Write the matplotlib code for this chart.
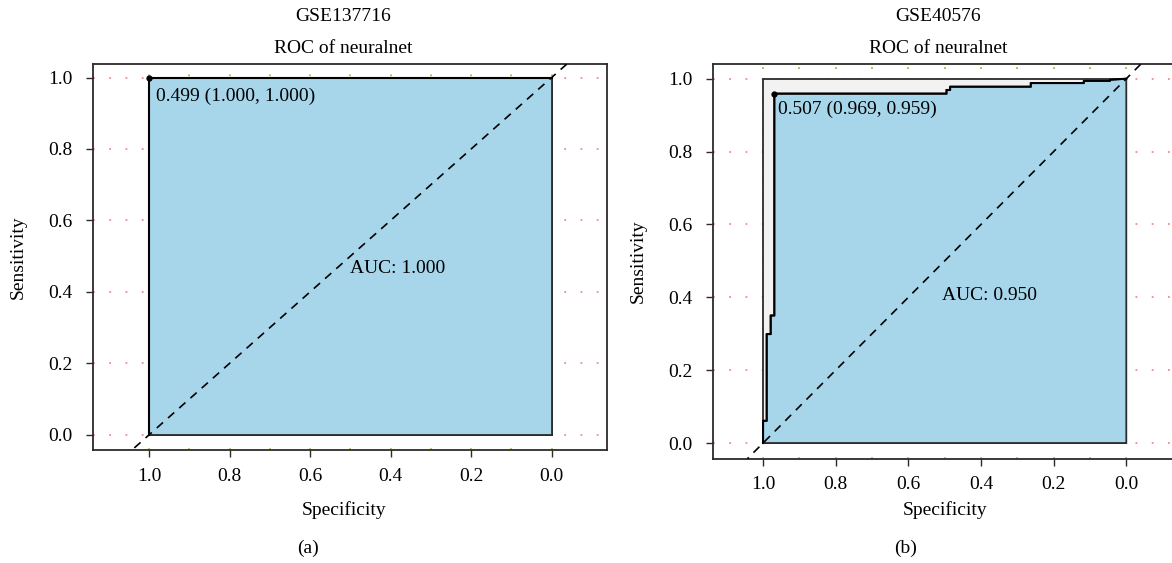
import matplotlib
matplotlib.use("Agg")
import matplotlib.pyplot as plt

# ROC curve vertices (specificity, sensitivity)
spec_a = [1.0, 1.0, 0.0]
sens_a = [0.0, 1.0, 1.0]
best_a = (1.000, 1.000)
thr_a = 0.499
auc_a = 1.000

spec_b = [1.0, 1.0, 0.990, 0.990, 0.979, 0.979, 0.969, 0.969, 0.495, 0.495,
          0.485, 0.485, 0.263, 0.263, 0.117, 0.117, 0.045, 0.045, 0.0]
sens_b = [0.0, 0.061, 0.061, 0.299, 0.299, 0.350, 0.350, 0.959, 0.959, 0.969,
          0.969, 0.978, 0.978, 0.988, 0.988, 0.994, 0.994, 0.997, 1.0]
best_b = (0.969, 0.959)
thr_b = 0.507
auc_b = 0.950

datasets = ["GSE137716", "GSE40576"]
captions = ["(a)", "(b)"]
tick_vals = [1.0, 0.8, 0.6, 0.4, 0.2, 0.0]

W, H = 1172, 563
FS = 14
plt.rcParams["font.family"] = ["Liberation Serif", "DejaVu Serif"]
plt.rcParams["font.size"] = FS

fig = plt.figure(figsize=(W / 100, H / 100), dpi=100)


def px_rect(x0, y0, x1, y1):
    return [x0 / W, 1 - y1 / H, (x1 - x0) / W, (y1 - y0) / H]


panels = [
    dict(spec=spec_a, sens=sens_a, best=best_a, thr=thr_a, auc=auc_a,
         rect=(93.3, 64, 607.3, 450.3), xlim=(1.139, -0.1385), ylim=(-0.0437, 1.038),
         auc_pos=(0.50, 0.464), off=(7, -19), title_x=343, ylab_x=18, xlab_x=344, cap_x=308),
    dict(spec=spec_b, sens=sens_b, best=best_b, thr=thr_b, auc=auc_b,
         rect=(713.3, 64.3, 1176.6, 458.7), xlim=(1.137, -0.1385), ylim=(-0.043, 1.0395),
         auc_pos=(0.507, 0.406), off=(4, -16), title_x=938, ylab_x=638, xlab_x=945, cap_x=906),
]

edge = "#2b2b2b"
for i, p in enumerate(panels):
    ax = fig.add_axes(px_rect(*p["rect"]))
    ax.set_xlim(*p["xlim"])
    ax.set_ylim(*p["ylim"])

    # dotted grid
    for y in [0.0, 0.2, 0.4, 0.6, 0.8, 1.0]:
        ax.axhline(y, color="#f28b82", lw=1.3, ls=(0, (1, 8)), zorder=0)
    for k in range(11):
        ax.axvline(k / 10, color="#8cc63f", lw=1.3, ls=(0, (1, 8)), zorder=0)

    # max AUC polygon and AUC polygon
    ax.fill([1, 1, 0, 0], [0, 1, 1, 0], facecolor="#f2f2f2", edgecolor=edge, lw=1.3, zorder=1)
    ax.fill(p["spec"] + [0.0], p["sens"] + [0.0], facecolor="#a7d6eb", edgecolor=edge,
            lw=1.3, zorder=2)
    ax.plot(p["spec"], p["sens"], color="black", lw=1.5, zorder=3)

    ax.axline((1, 0), (0, 1), color="black", lw=1.2, ls=(0, (5, 4)), zorder=4)

    sx, sy = p["best"]
    ax.plot([sx], [sy], "o", color="black", ms=3.5, zorder=5)
    ax.annotate(f"{p['thr']:.3f} ({sx:.3f}, {sy:.3f})", (sx, sy),
                xytext=p["off"], textcoords="offset pixels", ha="left", va="center",
                fontsize=FS, zorder=6)
    ax.text(p["auc_pos"][0], p["auc_pos"][1], f"AUC: {p['auc']:.3f}", ha="left",
            va="center", fontsize=FS, zorder=6)

    ax.set_xticks(tick_vals)
    ax.set_xticklabels([f"{v:.1f}" for v in tick_vals])
    ax.set_yticks(tick_vals)
    ax.set_yticklabels([f"{v:.1f}" for v in tick_vals])
    ax.tick_params(axis="both", direction="out", length=5.2, width=1.0, color=edge,
                   labelsize=FS)
    ax.tick_params(axis="x", pad=7.5)
    ax.tick_params(axis="y", pad=10)
    for s in ax.spines.values():
        s.set_color(edge)
        s.set_linewidth(1.3)

    x0, y0, x1, y1 = p["rect"]
    fig.text(p["title_x"] / W, 1 - 16.5 / H, datasets[i], ha="center", va="center", fontsize=FS)
    fig.text(p["title_x"] / W, 1 - 48.5 / H, "ROC of neuralnet", ha="center", va="center",
             fontsize=FS)
    fig.text(p["ylab_x"] / W, 1 - ((y0 + y1) / 2) / H, "Sensitivity", rotation=90,
             ha="center", va="center", fontsize=FS)
    fig.text(p["xlab_x"] / W, 1 - 510 / H, "Specificity", ha="center", va="center",
             fontsize=FS)
    fig.text(p["cap_x"] / W, 1 - 548 / H, captions[i], ha="center", va="center", fontsize=FS)

fig.savefig("out.png", dpi=100)
